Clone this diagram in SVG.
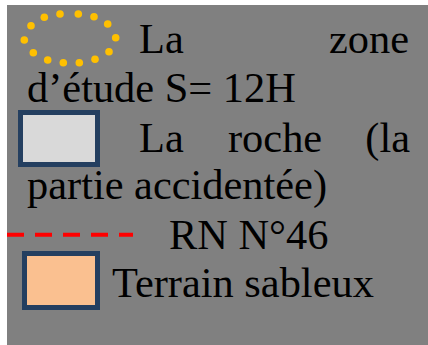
<svg xmlns="http://www.w3.org/2000/svg" width="428" height="345" viewBox="0 0 428 345">
<style>
.t{font-family:"Liberation Serif","Times New Roman",serif;font-size:42.4px;fill:#000}
.dot{fill:#FFC000}
.box{stroke:#243F60;stroke-width:5}
</style>
<rect x="0" y="0" width="428" height="345" fill="#FFFFFF"/>
<rect x="7" y="5" width="421" height="340" fill="#808080"/>
<g id="zone-etude">
<circle class="dot" cx="31" cy="25.7" r="3.8"/>
<circle class="dot" cx="44.3" cy="17.3" r="3.8"/>
<circle class="dot" cx="60" cy="14" r="3.8"/>
<circle class="dot" cx="78.3" cy="14" r="3.8"/>
<circle class="dot" cx="94" cy="16.7" r="3.8"/>
<circle class="dot" cx="107.7" cy="24" r="3.8"/>
<circle class="dot" cx="115.7" cy="37.7" r="3.8"/>
<circle class="dot" cx="109" cy="51.7" r="3.8"/>
<circle class="dot" cx="95" cy="59.3" r="3.8"/>
<circle class="dot" cx="79.3" cy="62.7" r="3.8"/>
<circle class="dot" cx="63.3" cy="62.7" r="3.8"/>
<circle class="dot" cx="47.7" cy="60" r="3.8"/>
<circle class="dot" cx="33.3" cy="52.7" r="3.8"/>
<circle class="dot" cx="24.3" cy="40" r="3.8"/>
<text class="t" x="139" y="53">La</text>
<text class="t" x="409" y="53" text-anchor="end">zone</text>
<text class="t" x="27" y="102">d’étude S= 12H</text>
</g>
<g id="roche">
<rect class="box" x="20.5" y="112.5" width="77" height="52" fill="#D9D9D9"/>
<text class="t" x="139" y="152">La</text>
<text class="t" x="228" y="152">roche</text>
<text class="t" x="410" y="152" text-anchor="end">(la</text>
<text class="t" x="27" y="199">partie accidentée)</text>
</g>
<g id="rn46">
<line x1="7" y1="234.7" x2="133" y2="234.7" stroke="#FF0000" stroke-width="4" stroke-dasharray="17 11"/>
<text class="t" x="169" y="249">RN N°46</text>
</g>
<g id="terrain">
<rect class="box" x="24.5" y="253.5" width="73" height="54" fill="#FAC090"/>
<text class="t" x="112" y="297">Terrain sableux</text>
</g>
</svg>
